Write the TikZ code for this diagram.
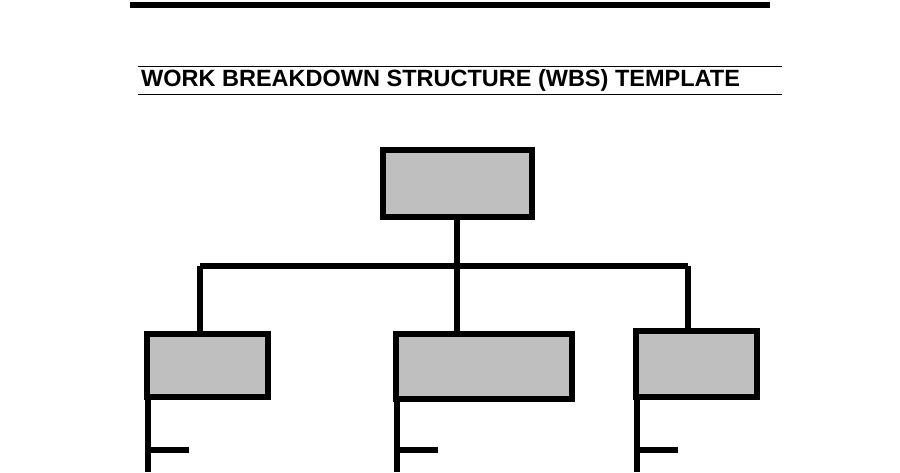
\documentclass[tikz,border=0pt]{standalone}
\usepackage{fontspec}
\setmainfont{Liberation Sans}
\usetikzlibrary{positioning}
\begin{document}
\begin{tikzpicture}[x=1pt,y=-1pt,
            wbsbox/.style = {draw, line width=6pt, fill=black!25, inner sep=0pt},
            wbsline/.style = {line width=6pt}]
            \useasboundingbox (0,0) rectangle (900,472);
            \draw[line width=6pt] (130,5) -- (770,5);
            \draw[line width=0.8pt] (138,66) -- (782,66);
            \draw[line width=0.8pt] (138,94) -- (782,94);
            \node[anchor=west, font=\bfseries\fontsize{23.5}{26}\selectfont, inner sep=0pt] (title) at (141,80) {WORK BREAKDOWN STRUCTURE (WBS) TEMPLATE};
            % boxes
            \node[wbsbox, minimum width=149pt, minimum height=67pt] (top) at (457,183.5) {};
            \node[wbsbox, minimum width=121pt, minimum height=63pt] (left) at (207.5,365.5) {};
            \node[wbsbox, minimum width=176pt, minimum height=65pt] (mid) at (484,366.5) {};
            \node[wbsbox, minimum width=121pt, minimum height=66pt] (right) at (696.5,364) {};
            % connectors
            \coordinate (bus) at (457,266);
            \draw[wbsline] (top.south) -- (bus);
            \draw[wbsline] (200,266) -- (688,266);
            \draw[wbsline] (200,266) -- (200,0 |- left.north);
            \draw[wbsline] (bus) -- (457,0 |- mid.north);
            \draw[wbsline] (688,266) -- (688,0 |- right.north);
            % sub levels
            \foreach \b/\x in {left/148, mid/397, right/637} {
                \draw[wbsline] (\x,0 |- \b.south) -- (\x,472);
                \draw[wbsline] (\x,450) -- (\x+41,450);
            }
\end{tikzpicture}
\end{document}
